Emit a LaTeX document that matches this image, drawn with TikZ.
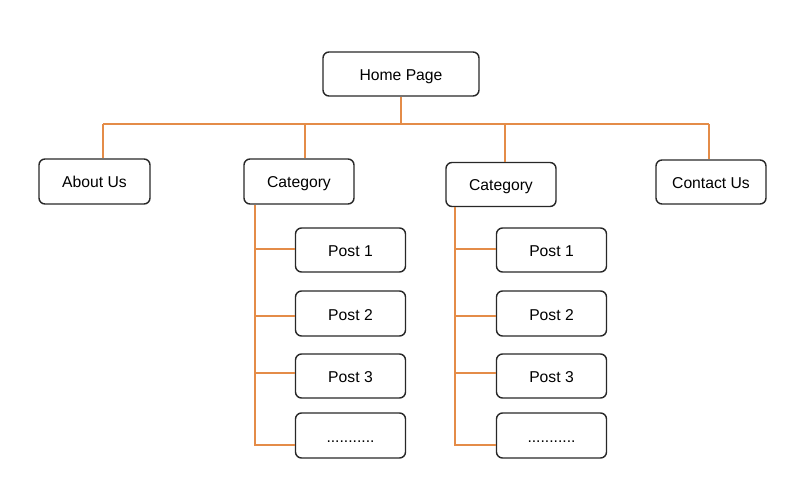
\documentclass[tikz,border=0pt]{standalone}
\usepackage{fontspec}
\setmainfont{Liberation Sans}
\definecolor{linkor}{RGB}{228,140,72}
\definecolor{boxline}{RGB}{40,40,40}
\begin{document}
\begin{tikzpicture}[x=1pt,y=-1pt,
  pagebox/.style={draw=boxline,line width=1.4pt,rounded corners=6pt,fill=white,
    minimum width=110pt,minimum height=44pt,inner sep=0pt,
    text height=13pt,text depth=0pt,
    font=\fontsize{15.7}{18}\selectfont},
  link/.style={draw=linkor,line width=2pt}]
\useasboundingbox (0,0) rectangle (800,489);
% nodes
\node[pagebox,minimum width=156pt] (home) at (401,74) {Home Page};
\node[pagebox,minimum width=111pt,minimum height=45pt] (about) at (94.5,181.5) {About Us};
\node[pagebox,minimum height=45pt] (cat1) at (299,181.5) {Category};
\node[pagebox] (cat2) at (501,184.5) {Category};
\node[pagebox] (contact) at (711,182) {Contact Us};
\foreach \c/\x in {1/350.5,2/551.5}{
  \node[pagebox] (p\c1) at (\x,250) {Post 1};
  \node[pagebox,minimum height=45pt] (p\c2) at (\x,313.5) {Post 2};
  \node[pagebox] (p\c3) at (\x,376) {Post 3};
  \node[pagebox,minimum height=45pt] (p\c4) at (\x,435.5) {...........};
}
% top bus
\coordinate (busL) at (103,124);
\coordinate (busR) at (709,124);
\coordinate (d1) at (305,124);
\coordinate (d2) at (505,124);
\draw[link] (busL) -- (busR);
\draw[link] (home.south) -- (home.south |- busL);
\draw[link] (busL) -- (busL |- about.north);
\draw[link] (d1) -- (d1 |- cat1.north);
\draw[link] (d2) -- (d2 |- cat2.north);
\draw[link] (busR) -- (busR |- contact.north);
% spines
\coordinate (s1) at (255,445);
\coordinate (s2) at (455,445);
\draw[link] (s1 |- cat1.south) -- (s1) -- (s1 -| p14.west);
\draw[link] (s2 |- cat2.south) -- (s2) -- (s2 -| p24.west);
\foreach \c in {1,2}{
  \coordinate (b\c1) at ([yshift=1pt]p\c1.west);
  \coordinate (b\c2) at ([yshift=-2.5pt]p\c2.west);
  \coordinate (b\c3) at ([yshift=3pt]p\c3.west);
  \foreach \k in {1,2,3}{
    \draw[link] (b\c\k -| s\c) -- (b\c\k);
  }
}
\end{tikzpicture}
\end{document}
